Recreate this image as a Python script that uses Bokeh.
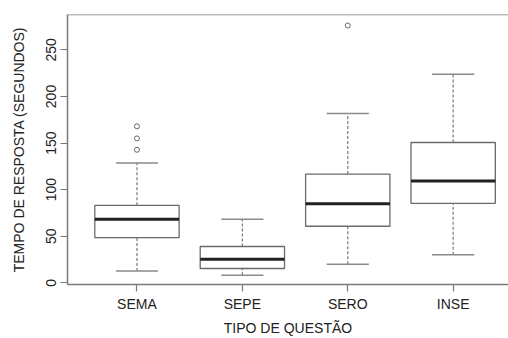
from bokeh.plotting import figure
from bokeh.models import FixedTicker, Range1d, Span, ColumnDataSource
from bokeh.embed import file_html
from bokeh.resources import INLINE

categories = ["SEMA", "SEPE", "SERO", "INSE"]
lower = [12.8, 8.2, 20.0, 30.0]
q1 = [48.6, 15.4, 60.7, 85.3]
median = [68.2, 25.4, 85.0, 109.2]
q3 = [83.2, 39.0, 116.7, 150.6]
upper = [128.5, 68.2, 181.7, 223.8]
outlier_group = [1, 1, 1, 3]
outlier_values = [168.0, 155.0, 142.8, 276.2]
y_ticks = [0, 50, 100, 150, 200, 250]

xs = list(range(1, len(categories) + 1))
box_half = 0.4
cap_half = 0.2

FONT = "Liberation Sans"
AX = "#7a7a7a"

p = figure(width=508, height=338, output_backend="svg", toolbar_location=None,
           x_range=Range1d(0.341, 4.525), y_range=Range1d(-1.8, 288.0),
           min_border_left=67, min_border_right=0, min_border_top=14,
           min_border_bottom=54)
p.outline_line_color = None
p.grid.grid_line_color = None
p.background_fill_color = "white"
p.border_fill_color = "white"

src = ColumnDataSource(dict(
    x=xs, lower=lower, q1=q1, median=median, q3=q3, upper=upper,
    bl=[x - box_half for x in xs], br=[x + box_half for x in xs],
    cl=[x - cap_half for x in xs], cr=[x + cap_half for x in xs]))

# whiskers (dashed)
p.segment(x0="x", y0="q3", x1="x", y1="upper", source=src, line_color="#777777",
          line_width=1.2, line_dash="3 2")
p.segment(x0="x", y0="lower", x1="x", y1="q1", source=src, line_color="#777777",
          line_width=1.2, line_dash="3 2")
# caps
p.segment(x0="cl", y0="upper", x1="cr", y1="upper", source=src, line_color="#8a8a8a",
          line_width=1.5)
p.segment(x0="cl", y0="lower", x1="cr", y1="lower", source=src, line_color="#8a8a8a",
          line_width=1.5)
# boxes
p.quad(left="bl", right="br", bottom="q1", top="q3", source=src, fill_color="white",
       line_color="#6a6a6a", line_width=1.3)
# medians
p.segment(x0="bl", y0="median", x1="br", y1="median", source=src, line_color="#222222",
          line_width=3)
# outliers
p.scatter(x=outlier_group, y=outlier_values, marker="circle", size=5,
          fill_color=None, line_color="#666666", line_width=1)

top = Span(location=288.0, dimension="width", line_color=AX, line_width=1.5)
p.add_layout(top)

p.xaxis.ticker = FixedTicker(ticks=xs)
p.xaxis.major_label_overrides = {i: c for i, c in zip(xs, categories)}
p.yaxis.ticker = FixedTicker(ticks=y_ticks)
p.yaxis.major_label_orientation = "vertical"

for ax in (p.xaxis[0], p.yaxis[0]):
    ax.axis_line_color = AX
    ax.axis_line_width = 1.5
    ax.major_tick_line_color = AX
    ax.major_tick_line_width = 1.2
    ax.major_tick_out = 7
    ax.major_tick_in = 0
    ax.minor_tick_line_color = None
    ax.major_label_text_font = FONT
    ax.major_label_text_font_size = "14px"
    ax.major_label_text_color = "#222222"
    ax.axis_label_text_font = FONT
    ax.axis_label_text_font_size = "14px"
    ax.axis_label_text_font_style = "normal"
    ax.axis_label_text_color = "#222222"

p.xaxis.axis_label = "TIPO DE QUESTÃO"
p.yaxis.axis_label = "TEMPO DE RESPOSTA (SEGUNDOS)"
p.xaxis.major_label_standoff = 4
p.xaxis.axis_label_standoff = 5
p.yaxis.major_label_standoff = 4
p.yaxis.axis_label_standoff = 17

open("out.html", "w").write(file_html(p, INLINE))
